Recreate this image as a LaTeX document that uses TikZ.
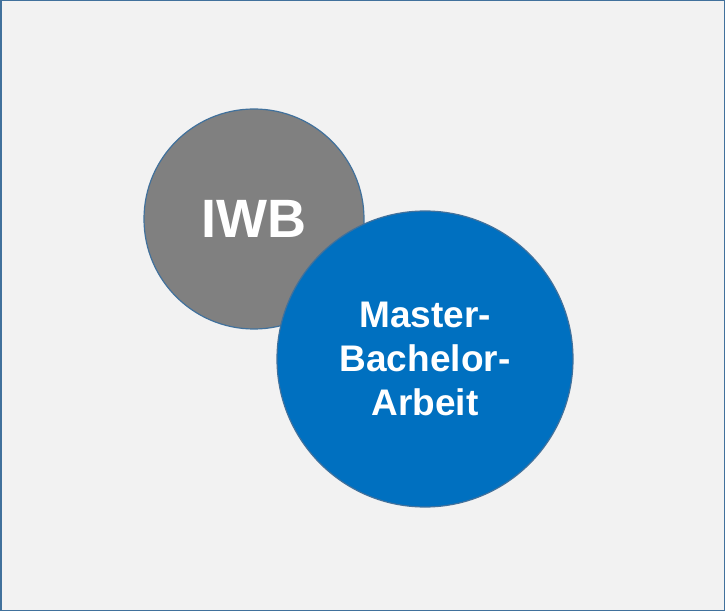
\documentclass[tikz,border=0pt]{standalone}
\usepackage{fontspec}
\setmainfont{Liberation Sans}
\definecolor{bg}{HTML}{F2F2F2}
\definecolor{frame}{HTML}{41719C}
\definecolor{iwbgray}{HTML}{808080}
\definecolor{mblue}{HTML}{0070C0}
\tikzset{circ/.style={circle,draw=frame,line width=1.2pt,text=white,font=\bfseries,align=center,inner sep=0pt}}
\begin{document}
\begin{tikzpicture}[x=1pt,y=1pt]
\path[fill=bg,draw=frame,line width=1.5pt] (0.75,0.75) rectangle (724.25,610.25);
\useasboundingbox (0,0) rectangle (725,611);
\node[circ,fill=iwbgray,minimum size=220pt,font=\bfseries\fontsize{54}{60}\selectfont] (iwb) at (254,392) {IWB};
\node[circ,fill=mblue,minimum size=296pt,font=\bfseries\fontsize{37}{44}\selectfont] (ma) at (425,252) {Master-\\Bachelor-\\Arbeit};
\end{tikzpicture}
\end{document}
